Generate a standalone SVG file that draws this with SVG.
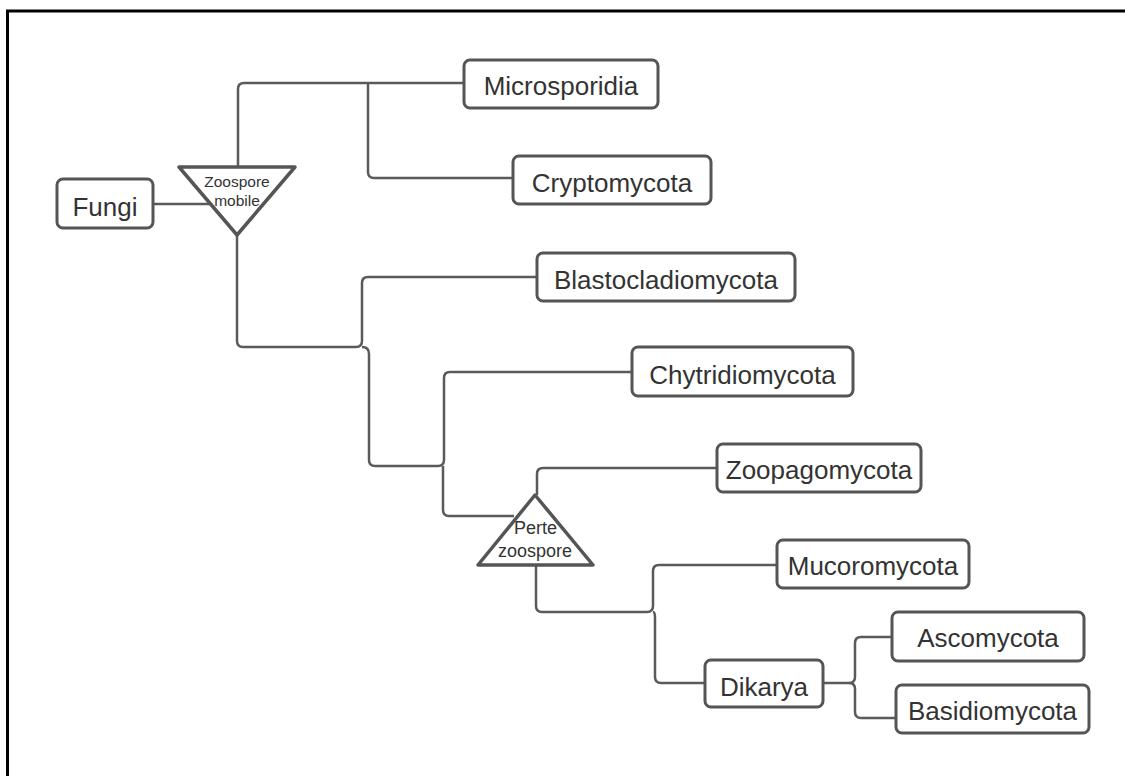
<svg xmlns="http://www.w3.org/2000/svg" width="1125" height="776" viewBox="0 0 1125 776">
<style>
.frame{fill:none;stroke:#000;stroke-width:3}
.box{fill:#fff;stroke:#555;stroke-width:3}
.tri{fill:#fff;stroke:#555;stroke-width:3.5;stroke-linejoin:round}
.lbl{font-family:"Liberation Sans",Arial,sans-serif;font-size:26px;fill:#333;text-anchor:middle}
.small{font-family:"Liberation Sans",Arial,sans-serif;fill:#333;text-anchor:middle}
.conn path{fill:none;stroke:#5a5a5a;stroke-width:2.5}
</style>
<rect width="1125" height="776" fill="#fff"/>
<path class="frame" d="M7.5,776 V11 H1125"/>
<g class="conn">
<path d="M153,204 H210"/>
<path d="M238,167 V89 Q238,83 244,83 H464"/>
<path d="M368,83 V172 Q368,178 374,178 H513"/>
<path d="M237,235 V341 Q237,347 243,347 H356 Q362,347 362,341 V283 Q362,277 368,277 H537"/>
<path d="M362,347 Q369,347 369,354 V460 Q369,466 375,466 H438 Q444,466 444,460 V378 Q444,372 450,372 H632"/>
<path d="M443,466 V510 Q443,516 449,516 H514"/>
<path d="M537,495 V474 Q537,468 543,468 H717"/>
<path d="M536,565 V606 Q536,612 542,612 H647 Q653,612 653,606 V571 Q653,565 659,565 H777"/>
<path d="M653,612 Q655,612 655,618 V677 Q655,683 661,683 H705"/>
<path d="M823,683 H849 Q855,683 855,677 V643 Q855,637 861,637 H892"/>
<path d="M849,683 Q855,683 855,689 V712 Q855,718 861,718 H896"/>
</g>
<g id="fungi"><rect class="box" x="57" y="179" width="96" height="49" rx="6"/><text class="lbl" x="105" y="216">Fungi</text></g>
<g id="zoospore-mobile"><polygon class="tri" points="179,167 295,167 237,235"/><text class="small" font-size="15.5" x="237" y="187">Zoospore</text><text class="small" font-size="15.5" x="237" y="206">mobile</text></g>
<g id="microsporidia"><rect class="box" x="464" y="60" width="194" height="48" rx="6"/><text class="lbl" x="561" y="95">Microsporidia</text></g>
<g id="cryptomycota"><rect class="box" x="513" y="156" width="198" height="48" rx="6"/><text class="lbl" x="612" y="192">Cryptomycota</text></g>
<g id="blastocladiomycota"><rect class="box" x="537" y="253" width="258" height="48" rx="6"/><text class="lbl" x="666" y="289">Blastocladiomycota</text></g>
<g id="chytridiomycota"><rect class="box" x="632" y="347" width="221" height="49" rx="6"/><text class="lbl" x="742.5" y="384">Chytridiomycota</text></g>
<g id="perte-zoospore"><polygon class="tri" points="535,495 593,565 478,565"/><text class="small" font-size="18" x="535.5" y="534">Perte</text><text class="small" font-size="18" x="535" y="557">zoospore</text></g>
<g id="zoopagomycota"><rect class="box" x="717" y="444" width="204" height="48" rx="6"/><text class="lbl" x="819" y="479">Zoopagomycota</text></g>
<g id="mucoromycota"><rect class="box" x="777" y="540" width="192" height="48" rx="6"/><text class="lbl" x="873" y="575">Mucoromycota</text></g>
<g id="dikarya"><rect class="box" x="705" y="660" width="118" height="47" rx="6"/><text class="lbl" x="764" y="696">Dikarya</text></g>
<g id="ascomycota"><rect class="box" x="892" y="612" width="192" height="49" rx="6"/><text class="lbl" x="988" y="647">Ascomycota</text></g>
<g id="basidiomycota"><rect class="box" x="896" y="685" width="193" height="48" rx="6"/><text class="lbl" x="992.5" y="720">Basidiomycota</text></g>
</svg>
